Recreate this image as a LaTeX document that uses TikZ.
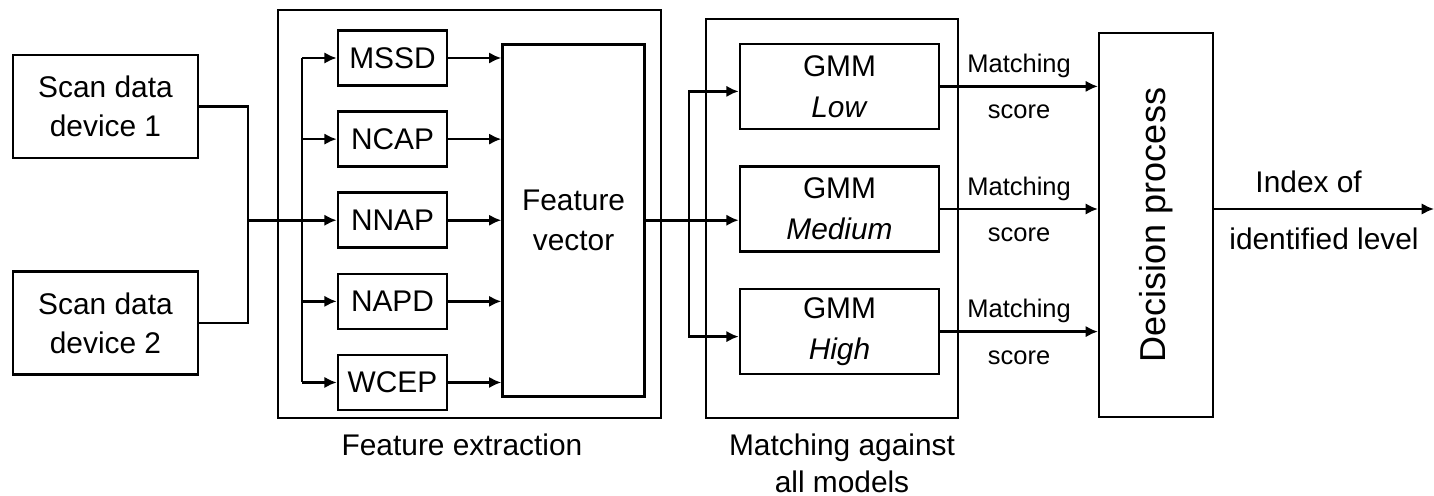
\documentclass[tikz,border=0pt]{standalone}
\usepackage{fontspec}
\setmainfont{Liberation Sans}
\usepackage{tikz}
\usetikzlibrary{positioning,arrows.meta}
\tikzset{>={Latex[length=7pt,width=6.5pt]}}

\begin{document}
\begin{tikzpicture}[x=0.02cm, y=-0.02cm, line width=1.5pt,
  every node/.style={font=\fontsize{17}{22.5}\selectfont},
  block/.style={draw, align=center, inner sep=0pt},
  scanbox/.style={block, minimum width=3.7cm, minimum height=2.06cm},
  featbox/.style={block, minimum width=2.18cm, minimum height=1.1cm},
  gmmbox/.style={block, minimum width=3.98cm, minimum height=1.7cm,
    font=\fontsize{17}{23.5}\selectfont},
  score/.style={inner sep=2pt, font=\fontsize{14.5}{17}\selectfont}]

  \useasboundingbox (0,0) rectangle (1434,496);

  % Nodes
  \node[scanbox]                      (scan1) at (105.5,106.5) {Scan data\\device 1};
  \node[scanbox, below=2.22cm of scan1] (scan2) {Scan data\\device 2};

  \node[block, minimum width=7.66cm, minimum height=8.16cm] (fe) at (469.5,214) {};
  \node (felabel) at (462,445) {Feature extraction};

  \node[featbox]                      (mssd) at (392.5,58) {MSSD};
  \node[featbox, below=0.47cm of mssd] (ncap) {NCAP};
  \node[featbox, below=0.47cm of ncap] (nnap) {NNAP};
  \node[featbox, below=0.47cm of nnap] (napd) {NAPD};
  \node[featbox, below=0.47cm of napd] (wcep) {WCEP};

  \node[block, minimum width=2.84cm, minimum height=7.04cm, right=1.06cm of nnap] (fv) {Feature\\vector};

  \node[block, minimum width=5.04cm, minimum height=7.98cm] (match) at (832,218.5) {};
  \node[align=center, font=\fontsize{17}{21}\selectfont] (mlabel) at (842,463) {Matching against\\all models};

  \node[gmmbox]                          (gmmmed) at (839.5,209) {GMM\\\textit{Medium}};
  \node[gmmbox, above=0.7cm of gmmmed]   (gmmlow) {GMM\\\textit{Low}};
  \node[gmmbox, below=0.7cm of gmmmed]   (gmmhigh) {GMM\\\textit{High}};

  \node[block, rotate=90, line width=1.2pt, minimum width=7.68cm, minimum height=2.28cm,
    font=\fontsize{20.5}{24}\selectfont] (dec) at (1156,225) {Decision process};

  \coordinate (jn) at (248,0);
  \coordinate (bus) at (302,0);
  \coordinate (split) at (689,0);
  \coordinate (out) at (1434,209);

  % Edges
  \draw (scan1.east) -| (jn |- nnap) |- (scan2.east);
  \draw[->] (jn |- nnap) -- (nnap.west);
  \draw (bus |- mssd) -- (bus |- wcep);
  \foreach \f in {mssd,ncap,napd,wcep}
    \draw[->] (bus |- \f) -- (\f.west);
  \foreach \f in {mssd,ncap,nnap,napd,wcep}
    \draw[->] (\f.east) -- (\f.east -| fv.west);

  \draw[->] (fv.east) -- (fv.east -| gmmmed.west);
  \draw[->] (split |- fv) |- ([yshift=-0.1cm]gmmlow.west);
  \draw[->] (split |- fv) |- ([yshift=-0.1cm]gmmhigh.west);

  \foreach \g in {gmmlow,gmmmed,gmmhigh}
    \draw[->] (\g.east) -- node[score, above=2pt] (ms\g) {Matching}
      node[score, below=8pt] (sc\g) {score} (\g.east -| dec.north);

  \draw[->, line width=1.2pt] (dec.south |- out) --
    node[pos=0.43, above=6.9pt, inner sep=2pt] (idx) {Index of}
    node[below=8pt, inner sep=2pt] (lvl) {identified level} (out);

\end{tikzpicture}
\end{document}
